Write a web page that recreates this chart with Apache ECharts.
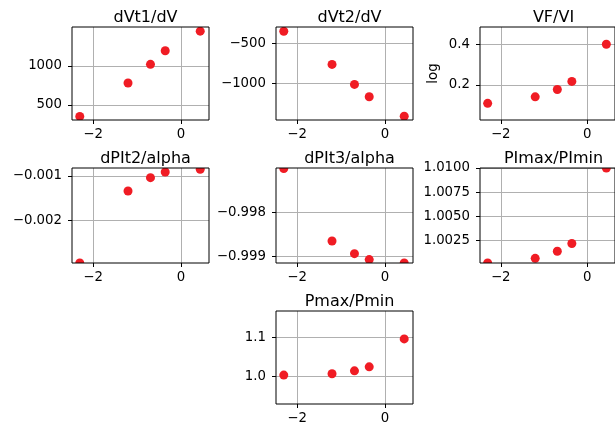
<!DOCTYPE html>
<html>
<head>
<meta charset="utf-8">
<script src="https://cdn.jsdelivr.net/npm/echarts@6/dist/echarts.min.js"></script>
<style>
html,body{margin:0;padding:0;background:#fff;}
#chart{width:615px;height:429px;}
</style>
</head>
<body>
<div id="chart"></div>
<script>
// ---- data ----
const xValues = [-2.303, -1.204, -0.693, -0.357, 0.44];
const xTicks = [-2, 0];
const titles = ['dVt1/dV', 'dVt2/dV', 'VF/VI', 'dPIt2/alpha', 'dPIt3/alpha', 'PImax/PImin', 'Pmax/Pmin'];
const dVt1 = [355, 780, 1018, 1191, 1441];
const dVt2 = [-345, -764, -1016, -1172, -1419];
const vfvi = [0.109, 0.141, 0.177, 0.217, 0.400];
const dPIt2 = [-0.00295, -0.001336, -0.001036, -0.00091, -0.00085];
const dPIt3 = [-0.997, -0.998645, -0.998932, -0.999068, -0.999145];
const pimax = [1.00018, 1.00066, 1.00139, 1.00219, 1.0100];
const pmax = [1.0026, 1.006, 1.0137, 1.024, 1.0964];
const yTicks = [
  [500, 1000],
  [-1000, -500],
  [0.2, 0.4],
  [-0.002, -0.001],
  [-0.999, -0.998],
  [1.0025, 1.005, 1.0075, 1.01],
  [1.0, 1.1]
];
const yDecimals = [0, 0, 1, 3, 3, 4, 1];
const yRanges = [
  [309, 1494],
  [-1466, -291],
  [0.027, 0.485],
  [-0.00295, -0.00082],
  [-0.999145, -0.996986],
  [1.00018, 1.0100],
  [0.9277, 1.1687]
];
const seriesValues = [dVt1, dVt2, vfvi, dPIt2, dPIt3, pimax, pmax];
const yNames = ['', '', 'log', '', '', '', ''];

// ---- layout ----
const colLeft = [72, 276, 480];
const rowTop = [27, 168, 311];
const rowH = [93, 95, 93];
const W = 137;
const cells = [[0,0],[0,1],[0,2],[1,0],[1,1],[1,2],[2,1]];
const FONT = 'DejaVu Sans';
const minus = s => String(s).replace(/-/g, '\u2212');

const grid = [], xAxis = [], yAxis = [], series = [], title = [];
cells.forEach(([r, c], i) => {
  grid.push({left: colLeft[c], top: rowTop[r], width: W, height: rowH[r],
    show: true, borderColor: '#000', borderWidth: 1, backgroundColor: 'transparent', z: 3});
  title.push({text: titles[i], left: colLeft[c] + W / 2, top: rowTop[r] - 22, textAlign: 'center',
    textStyle: {fontFamily: FONT, fontSize: 16, fontWeight: 'normal', color: '#000'}});
  xAxis.push({type: 'value', gridIndex: i, min: -2.48, max: 0.64,
    axisLine: {show: false, onZero: false},
    axisTick: {show: true, length: 4, lineStyle: {color: '#000'}, customValues: xTicks},
    axisLabel: {customValues: xTicks, margin: 8, fontFamily: FONT, fontSize: 13.3, color: '#000',
      formatter: v => minus(v)},
    splitLine: {show: true, lineStyle: {color: '#b0b0b0', width: 1}}});
  const d = yDecimals[i];
  yAxis.push({type: 'value', gridIndex: i, min: yRanges[i][0], max: yRanges[i][1],
    name: yNames[i], nameLocation: 'middle', nameGap: 40, nameRotate: 90,
    nameTextStyle: {fontFamily: FONT, fontSize: 13.3, color: '#000'},
    axisLine: {show: false, onZero: false},
    axisTick: {show: true, length: 4, lineStyle: {color: '#000'}, customValues: yTicks[i]},
    axisLabel: {customValues: yTicks[i], margin: 10, fontFamily: FONT, fontSize: 13.3, color: '#000',
      formatter: v => minus(Number(v).toFixed(d))},
    splitLine: {show: true, lineStyle: {color: '#b0b0b0', width: 1}}});
  series.push({type: 'custom', xAxisIndex: i, yAxisIndex: i, clip: true,
    encode: {x: 0, y: 1},
    renderItem: (params, api) => {
      const p = api.coord([api.value(0), api.value(1)]);
      return {type: 'circle', shape: {cx: p[0], cy: p[1], r: 4.5}, style: {fill: '#f01c24'}};
    },
    data: xValues.map((x, k) => [x, seriesValues[i][k]])});
});

const chart = echarts.init(document.getElementById('chart'), null, {renderer: 'canvas'});
chart.setOption({animation: false, backgroundColor: '#fff', title, grid, xAxis, yAxis, series});
</script>
</body>
</html>
